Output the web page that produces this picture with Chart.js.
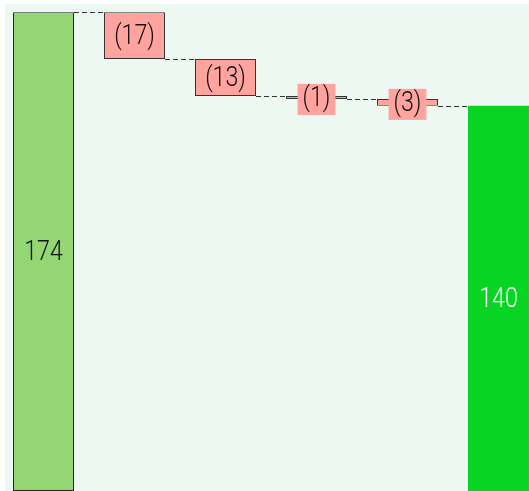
<!DOCTYPE html>
<html>
<head>
<meta charset="utf-8">
<style>
html,body{margin:0;padding:0;background:#ffffff;overflow:hidden;width:529px;height:491px;}
#wrap{position:absolute;left:-2px;top:0;width:546px;height:491px;}
</style>
<script src="https://cdn.jsdelivr.net/npm/chart.js@4/dist/chart.umd.min.js"></script>
</head>
<body>
<div id="wrap"><canvas id="c" width="546" height="491"></canvas></div>
<script>
const categories = ['Start', 'Step 1', 'Step 2', 'Step 3', 'Step 4', 'End'];
const startValue = 174;
const changes = [-17, -13.4, -1.1, -2.5];
const endValue = 140;
const barLabels = ['174', '(17)', '(13)', '(1)', '(3)', '140'];

const ranges = [[0, startValue]];
let run = startValue;
changes.forEach(d => { ranges.push([run, run + d]); run += d; });
ranges.push([0, endValue]);

const fills = ['#94d574', '#ffa39e', '#ffa39e', '#ffa39e', '#ffa39e', '#08d424'];
const borders = ['#222222', '#333333', '#333333', '#333333', '#333333', 'rgba(0,0,0,0)'];
const borderW = [1, 1, 1, 1, 1, 0];
const textColors = ['#111111', '#111111', '#111111', '#111111', '#111111', '#ffffff'];
const FONT = '300 27px Roboto, "DejaVu Sans Condensed", sans-serif';
const SX = 0.86;

const bgPlugin = {
  id: 'bg',
  beforeDraw(chart) {
    const {ctx, chartArea: a} = chart;
    ctx.save();
    ctx.fillStyle = '#eef8f2';
    ctx.fillRect(a.left + 7, a.top, (a.right - 15) - (a.left + 7), a.bottom - a.top);
    ctx.restore();
  }
};

const wfPlugin = {
  id: 'wf',
  afterDatasetsDraw(chart) {
    const ctx = chart.ctx;
    const meta = chart.getDatasetMeta(0);
    const y = chart.scales.y;
    ctx.save();
    ctx.strokeStyle = '#333333';
    ctx.lineWidth = 1;
    ctx.setLineDash([5, 3]);
    for (let i = 0; i < meta.data.length - 1; i++) {
      const b = meta.data[i], n = meta.data[i + 1];
      const level = ranges[i][1];
      const py = Math.round(y.getPixelForValue(level)) + 0.5;
      ctx.beginPath();
      ctx.moveTo(b.x + b.width / 2, py);
      ctx.lineTo(n.x - n.width / 2, py);
      ctx.stroke();
    }
    ctx.setLineDash([]);
    ctx.font = FONT;
    ctx.textAlign = 'center';
    ctx.textBaseline = 'middle';
    meta.data.forEach((b, i) => {
      const cy = (y.getPixelForValue(ranges[i][0]) + y.getPixelForValue(ranges[i][1])) / 2;
      const w = ctx.measureText(barLabels[i]).width * SX;
      if (i > 0 && i < meta.data.length - 1) {
        ctx.fillStyle = fills[i];
        ctx.fillRect(b.x - w / 2 - 5, cy - 13.5, w + 10, 31);
      }
      ctx.save();
      ctx.translate(b.x, cy + 2);
      ctx.scale(SX, 1);
      ctx.fillStyle = textColors[i];
      ctx.fillText(barLabels[i], 0, 0);
      ctx.restore();
    });
    ctx.restore();
  }
};

new Chart(document.getElementById('c'), {
  type: 'bar',
  data: {
    labels: categories,
    datasets: [{
      data: ranges,
      backgroundColor: fills,
      borderColor: borders,
      borderWidth: borderW,
      borderSkipped: false,
      categoryPercentage: 1,
      barPercentage: 0.67
    }]
  },
  options: {
    responsive: false,
    animation: false,
    layout: {padding: {top: 4, left: 0, right: 0, bottom: 0}},
    plugins: {legend: {display: false}, tooltip: {enabled: false}},
    scales: {
      x: {display: false, offset: true},
      y: {display: false, min: 0, max: 177}
    }
  },
  plugins: [bgPlugin, wfPlugin]
});
</script>
</body>
</html>
